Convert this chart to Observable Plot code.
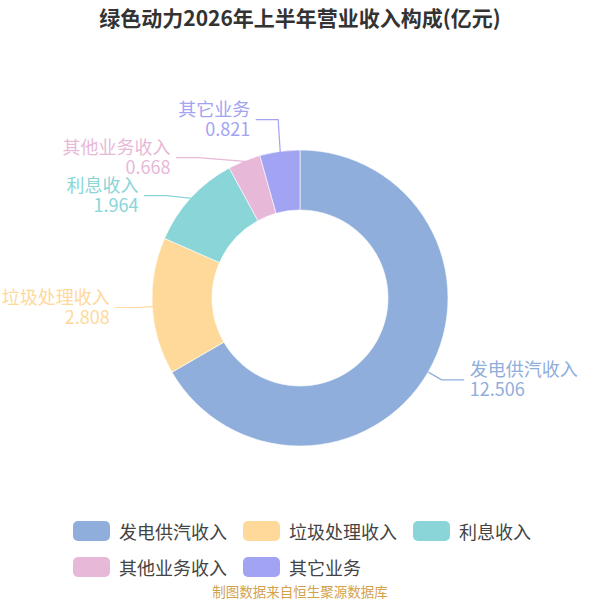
<!DOCTYPE html>
<html>
<head>
<meta charset="utf-8">
<script src="https://cdn.jsdelivr.net/npm/d3@7"></script>
<script src="https://cdn.jsdelivr.net/npm/@observablehq/plot@0.6"></script>
<style>
  html, body { margin: 0; padding: 0; background: #fff; }
  body { width: 600px; font-family: "Noto Sans CJK SC", "Noto Sans", sans-serif; }
  #title { height: 40px; line-height: 34px; text-align: center; font-size: 21px; font-weight: bold; color: #333; }
  #chart svg { display: block; }
  #legend { display: flex; flex-wrap: wrap; column-gap: 16px; row-gap: 14px; padding: 20px 40px 0 73px; box-sizing: border-box; width: 600px; }
  .item { display: flex; align-items: center; height: 22px; font-size: 18px; color: #444; }
  .sw { width: 37px; height: 20px; border-radius: 5px; margin-right: 9px; }
  #caption { margin-top: 5px; line-height: 16px; text-align: center; font-size: 13.5px; color: #d4a24c; }
</style>
</head>
<body>
<div id="title">绿色动力2026年上半年营业收入构成(亿元)</div>
<div id="chart"></div>
<div id="legend"></div>
<div id="caption">制图数据来自恒生聚源数据库</div>
<script>
const categories = ["发电供汽收入", "垃圾处理收入", "利息收入", "其他业务收入", "其它业务"];
const values = [12.506, 2.808, 1.964, 0.668, 0.821];
const colors = ["#8faedb", "#ffd99a", "#89d5d7", "#e8b8d8", "#a3a3f3"];

const data = categories.map((cat, i) => ({cat, value: values[i]}));

const W = 600, H = 460, CX = 300, CY = 258;
const R_OUT = 148, R_IN = 88, LEN1 = 15, LEN2 = 22, GAP = 38;
const RA = R_OUT + LEN1;

const pieData = d3.pie().sort(null).value(d => d.value)(data);

// label layout (ECharts-like: shift vertically, then realign x on an ellipse)
const labels = pieData.map(p => {
  const a = (p.startAngle + p.endAngle) / 2;
  const s = Math.sin(a), c = Math.cos(a);
  return {
    cat: p.data.cat, value: p.data.value, s, c,
    side: s < 0 ? "left" : "right",
    x0: R_OUT * s, y0: -R_OUT * c,
    x1: RA * s, y1: -RA * c, shifted: false
  };
});
for (const side of ["left", "right"]) {
  const group = labels.filter(l => l.side === side).sort((a, b) => a.y1 - b.y1);
  let moved = false;
  for (let it = 0; it < 200; it++) {
    for (let i = 1; i < group.length; i++) {
      const d = group[i].y1 - group[i - 1].y1;
      if (d < GAP - 1e-6) {
        const m = (GAP - d) / 2;
        group[i - 1].y1 -= m;
        group[i].y1 += m;
        moved = true;
      }
    }
  }
  if (!moved) continue;
  for (const semi of [group.filter(l => l.y1 <= 0), group.filter(l => l.y1 > 0)]) {
    if (!semi.length) continue;
    const far = semi.reduce((m, l) => Math.abs(l.y1) > Math.abs(m.y1) ? l : m);
    const rB = Math.abs(far.y1) / Math.max(Math.abs(far.c), 1e-6);
    semi.forEach(l => {
      const dy = Math.abs(l.y1);
      const dx = Math.sqrt(Math.max(0, 1 - dy * dy / (rB * rB))) * RA;
      l.x1 = (side === "left" ? -1 : 1) * dx;
    });
  }
}
labels.forEach(l => {
  const dir = l.side === "left" ? -1 : 1;
  l.x2 = l.x1 + dir * LEN2;
  l.y2 = l.y1;
  l.tx = l.x2 + dir * 6;
  l.text = `${l.cat}\n${l.value.toFixed(3)}`;
});
const linePts = labels.flatMap(l => [
  {cat: l.cat, x: l.x0, y: l.y0},
  {cat: l.cat, x: l.x1, y: l.y1},
  {cat: l.cat, x: l.x2, y: l.y2}
]);

function donut(index, scales) {
  const cx = scales.x(0), cy = scales.y(0);
  const k = scales.x(1) - scales.x(0);
  const arc = d3.arc().innerRadius(R_IN * k).outerRadius(R_OUT * k);
  const g = d3.create("svg:g").attr("transform", `translate(${cx},${cy})`);
  g.selectAll("path").data(pieData).join("path")
    .attr("d", arc)
    .attr("fill", d => scales.color(d.data.cat))
    .attr("stroke", "#fff")
    .attr("stroke-width", 0.6);
  return g.node();
}

const plot = Plot.plot({
  width: W, height: H, margin: 0,
  style: {fontFamily: '"Noto Sans CJK SC", sans-serif', background: "transparent"},
  x: {domain: [-CX, W - CX], range: [0, W], axis: null},
  y: {domain: [-CY, H - CY], range: [0, H], axis: null},
  color: {domain: categories, range: colors},
  marks: [
    donut,
    Plot.line(linePts, {x: "x", y: "y", z: "cat", stroke: "cat", strokeWidth: 1.2, curve: "linear"}),
    Plot.text(labels.filter(l => l.side === "left"), {x: "tx", y: "y2", text: "text", fill: "cat", textAnchor: "end", fontSize: 18, lineHeight: 1.1}),
    Plot.text(labels.filter(l => l.side === "right"), {x: "tx", y: "y2", text: "text", fill: "cat", textAnchor: "start", fontSize: 18, lineHeight: 1.1})
  ]
});
document.getElementById("chart").appendChild(plot);

const legend = d3.select("#legend");
categories.forEach((cat, i) => {
  const it = legend.append("div").attr("class", "item");
  it.append("div").attr("class", "sw").style("background", colors[i]);
  it.append("span").text(cat);
});
</script>
</body>
</html>
